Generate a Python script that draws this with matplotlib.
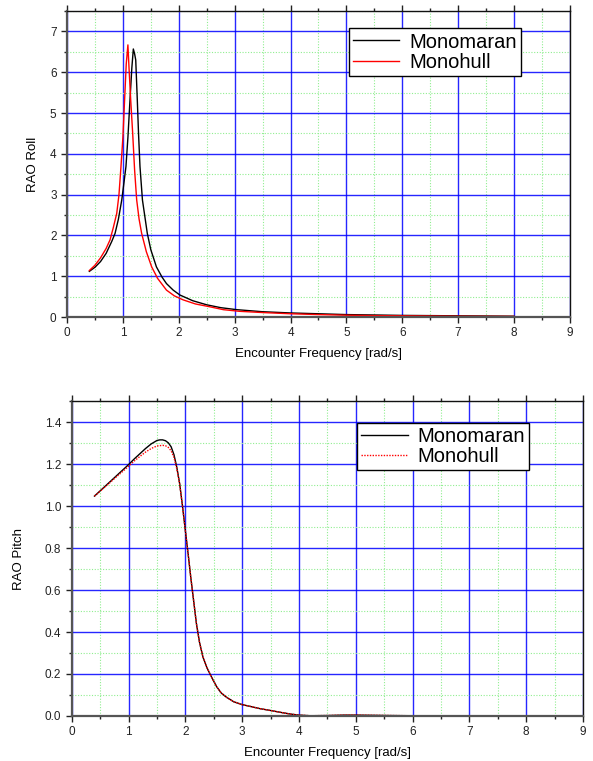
import matplotlib
matplotlib.use('Agg')
import matplotlib.pyplot as plt
from matplotlib.ticker import MultipleLocator, FormatStrFormatter

plt.rcParams['font.family'] = ['Liberation Sans', 'DejaVu Sans']

# RAO Roll
roll_x_mono = [0.40, 0.50, 0.60, 0.70, 0.80, 0.86, 0.92, 0.98, 1.02, 1.055, 1.09, 1.127,
               1.16, 1.187, 1.21, 1.23, 1.258, 1.28, 1.306, 1.35, 1.437, 1.50, 1.60, 1.70,
               1.78, 1.90, 2.02, 2.25, 2.50, 2.75, 3.04, 3.5, 4.0, 4.5, 5.0, 5.5, 6.0, 6.5,
               7.0, 7.5, 8.0]
roll_y_mono = [1.12, 1.22, 1.36, 1.56, 1.85, 2.05, 2.40, 2.87, 3.30, 3.69, 4.40, 5.32,
               6.10, 6.57, 6.45, 6.30, 5.32, 4.50, 3.69, 2.87, 2.05, 1.65, 1.23, 0.98,
               0.82, 0.66, 0.54, 0.40, 0.30, 0.23, 0.18, 0.13, 0.10, 0.08, 0.06, 0.05, 0.04, 0.035,
               0.03, 0.025, 0.02]
roll_x_hull = [0.40, 0.50, 0.60, 0.70, 0.77, 0.83, 0.89, 0.93, 0.966, 1.00, 1.03, 1.06,
               1.09, 1.11, 1.14, 1.175, 1.21, 1.247, 1.29, 1.336, 1.42, 1.515, 1.62, 1.78,
               1.92, 2.08, 2.30, 2.56, 2.80, 3.09, 3.5, 4.0, 4.5, 5.0, 5.5, 6.0, 6.5, 7.0,
               7.5, 8.0]
roll_y_hull = [1.14, 1.27, 1.45, 1.68, 1.89, 2.20, 2.54, 3.00, 3.69, 4.40, 5.30, 6.20,
               6.67, 6.10, 5.32, 4.51, 3.60, 2.87, 2.40, 2.05, 1.60, 1.23, 0.95, 0.66,
               0.52, 0.42, 0.32, 0.25, 0.18, 0.14, 0.11, 0.08, 0.06, 0.045, 0.035, 0.03, 0.025, 0.02,
               0.017, 0.015]

# RAO Pitch
pitch_x_mono = [0.40, 0.50, 0.60, 0.70, 0.80, 0.90, 1.00, 1.10, 1.20, 1.30, 1.40, 1.50,
                1.55, 1.60, 1.65, 1.70, 1.75, 1.80, 1.85, 1.90, 1.95, 2.00, 2.05, 2.095,
                2.15, 2.195, 2.25, 2.31, 2.38, 2.46, 2.55, 2.63, 2.72, 2.85, 3.00, 3.15,
                3.31, 3.50, 3.70, 3.85, 4.00, 4.20, 4.50, 4.80, 5.00, 5.30, 5.60, 6.00,
                6.50, 7.00, 7.50, 8.00]
pitch_y_mono = [1.048, 1.073, 1.098, 1.123, 1.148, 1.173, 1.198, 1.225, 1.250, 1.275, 1.297, 1.313,
                1.316, 1.316, 1.312, 1.302, 1.283, 1.245, 1.185, 1.107, 1.000, 0.884, 0.770, 0.662,
                0.540, 0.440, 0.350, 0.281, 0.230, 0.186, 0.140, 0.110, 0.090, 0.068, 0.054, 0.045,
                0.035, 0.026, 0.016, 0.009, 0.004, 0.001, 0.002, 0.004, 0.004, 0.003, 0.002, 0.001,
                0.0005, 0.0003, 0.0002, 0.0001]
pitch_x_hull = [0.40, 0.60, 0.80, 1.00, 1.10, 1.20, 1.30, 1.40, 1.50, 1.60, 1.65, 1.70,
                1.75, 1.80, 1.85, 1.90, 1.95, 2.00, 2.05, 2.095, 2.15, 2.195, 2.25, 2.31, 2.38,
                2.46, 2.55, 2.63, 2.72, 2.85, 3.00, 3.15, 3.31, 3.50, 3.70, 3.85, 4.00,
                4.20, 4.50, 4.80, 5.00, 5.30, 5.60, 6.00, 6.50, 7.00, 7.50, 8.00]
pitch_y_hull = [1.048, 1.095, 1.143, 1.190, 1.215, 1.237, 1.258, 1.275, 1.287, 1.290, 1.288, 1.280,
                1.264, 1.232, 1.178, 1.105, 1.000, 0.884, 0.770, 0.662, 0.540, 0.440, 0.350, 0.281, 0.230,
                0.186, 0.140, 0.110, 0.090, 0.068, 0.054, 0.045, 0.035, 0.026, 0.016, 0.009, 0.004,
                0.001, 0.002, 0.004, 0.004, 0.003, 0.002, 0.001, 0.0005, 0.0003, 0.0002, 0.0001]

x_label = 'Encounter Frequency [rad/s]'


def style_axes(ax, ymax, ymajor, yminor, ylabel, ypad):
    ax.set_xlim(0, 9)
    ax.set_ylim(0, ymax)
    ax.xaxis.set_major_locator(MultipleLocator(1))
    ax.xaxis.set_minor_locator(MultipleLocator(0.5))
    ax.yaxis.set_major_locator(MultipleLocator(ymajor))
    ax.yaxis.set_minor_locator(MultipleLocator(yminor))
    ax.grid(which='major', color='#0000ff', linewidth=1.0, alpha=0.85)
    ax.grid(which='minor', color='#90ee90', linewidth=0.8, linestyle=(0, (1, 1.5)))
    ax.set_axisbelow(True)
    ax.tick_params(which='both', direction='out', top=True, right=False,
                   labelsize=8.5, colors='#222222', width=1.0)
    ax.tick_params(which='major', length=4)
    ax.tick_params(which='minor', length=2.5)
    for side in ['left', 'bottom']:
        ax.spines[side].set_color('#555555')
        ax.spines[side].set_linewidth(1.6)
    for side in ['top', 'right']:
        ax.spines[side].set_color('#111111')
        ax.spines[side].set_linewidth(1.0)
    ax.set_xlabel(x_label, fontsize=9.5, labelpad=6)
    ax.set_ylabel(ylabel, fontsize=9.5, labelpad=ypad)


def add_legend(ax, anchor):
    leg = ax.legend(loc='upper right', bbox_to_anchor=anchor, fontsize=14.5,
                    frameon=True, fancybox=False, framealpha=1, edgecolor='black',
                    handlelength=2.3, handletextpad=0.5, borderpad=0.2,
                    labelspacing=0.08, borderaxespad=0)
    leg.get_frame().set_linewidth(1.0)


fig = plt.figure(figsize=(5.93, 7.61), dpi=100)
ax1 = fig.add_axes([0.113, 0.5834, 0.848, 0.4021])
ax2 = fig.add_axes([0.121, 0.0592, 0.862, 0.4135])

ax1.plot(roll_x_mono, roll_y_mono, color='black', linewidth=1.0, label='Monomaran')
ax1.plot(roll_x_hull, roll_y_hull, color='red', linewidth=1.0, label='Monohull')
style_axes(ax1, 7.5, 1, 0.5, 'RAO Roll', 8)
ax1.set_yticks([0, 1, 2, 3, 4, 5, 6, 7])
add_legend(ax1, (0.902, 0.943))

ax2.plot(pitch_x_mono, pitch_y_mono, color='black', linewidth=1.0, label='Monomaran')
ax2.plot(pitch_x_hull, pitch_y_hull, color='red', linewidth=1.0, linestyle=(0, (1, 1)),
         label='Monohull')
style_axes(ax2, 1.5, 0.2, 0.1, 'RAO Pitch', 14)
ax2.set_yticks([0, 0.2, 0.4, 0.6, 0.8, 1.0, 1.2, 1.4])
ax2.yaxis.set_major_formatter(FormatStrFormatter('%.1f'))
add_legend(ax2, (0.895, 0.932))

plt.savefig('out.png', dpi=100)
